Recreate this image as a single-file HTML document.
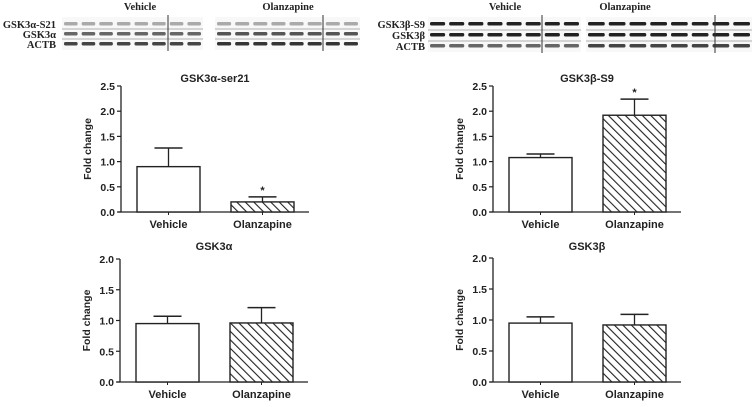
<!DOCTYPE html>
<html><head><meta charset="utf-8"><style>
body{margin:0;background:#fff;width:752px;height:402px;overflow:hidden}
svg text{font-family:"Liberation Sans",Arial,sans-serif;font-weight:bold;fill:#222}
.serif{font-family:"Liberation Serif",serif !important}
</style></head><body>
<svg id="fig" width="752" height="402" viewBox="0 0 752 402" xmlns="http://www.w3.org/2000/svg">
<defs>
<pattern id="hatch" patternUnits="userSpaceOnUse" width="6" height="6" patternTransform="rotate(-45)">
<rect width="6" height="6" fill="#fff"/><line x1="0" y1="0" x2="0" y2="6" stroke="#222" stroke-width="2.2"/>
</pattern>
</defs>
<g id="blots"></g>
<g id="charts"></g>
</svg>
<script>
const categories = ["Vehicle", "Olanzapine"];
const titles = ["GSK3\u03b1-ser21", "GSK3\u03b2-S9", "GSK3\u03b1", "GSK3\u03b2"];
const meanA1 = [0.9, 0.2];
const errA1 = [0.37, 0.1];
const meanB1 = [1.08, 1.92];
const errB1 = [0.07, 0.32];
const meanA2 = [0.95, 0.96];
const errA2 = [0.12, 0.25];
const meanB2 = [0.95, 0.92];
const errB2 = [0.10, 0.17];
const sigStars = [[false, true], [false, true], [false, false], [false, false]];
const ticksTop = [0, 0.5, 1.0, 1.5, 2.0, 2.5];
const ticksBottom = [0, 0.5, 1.0, 1.5, 2.0];

const NS = "http://www.w3.org/2000/svg";
function mk(tag, attrs, parent) {
  const e = document.createElementNS(NS, tag);
  for (const k in attrs) e.setAttribute(k, attrs[k]);
  parent.appendChild(e);
  return e;
}
const charts = document.getElementById('charts');

function chart(idx, ax, yTop, yZero, yMax, ticks, means, errs, titleY) {
  const g = mk('g', {}, charts);
  
  
  const y = v => yZero - (v / yMax) * (yZero - yTop);
  const bx = [ax + 16, ax + 110], bw = 63;
  const t = mk('text', {x: ax + 94, y: titleY, 'font-size': 11, 'text-anchor': 'middle'}, g);
  t.textContent = titles[idx];
  
  
  const yl = mk('line', {x1: ax, y1: yTop, x2: ax, y2: yZero, stroke: '#222', 'stroke-width': 1.3}, g);
  
  
  const xl = mk('line', {x1: ax - 3, y1: yZero, x2: ax + 188, y2: yZero, stroke: '#222', 'stroke-width': 1.3}, g);
  
  
  ticks.forEach(v => {
    mk('line', {x1: ax - 4, y1: y(v), x2: ax, y2: y(v), stroke: '#222', 'stroke-width': 1.2}, g);
    const tl = mk('text', {x: ax - 6, y: y(v) + 4, 'font-size': 10.5, 'text-anchor': 'end'}, g);
    tl.textContent = v.toFixed(1);
    
    
  });
  const ylab = mk('text', {x: 0, y: 0, 'font-size': 10.5, 'text-anchor': 'middle', transform: `translate(${ax - 30},${(yTop + yZero) / 2}) rotate(-90)`}, g);
  ylab.textContent = 'Fold change';
  
  
  means.forEach((m, i) => {
    const cx = bx[i] + bw / 2;
    const eTop = y(m + errs[i]);
    mk('line', {x1: cx, y1: y(m), x2: cx, y2: eTop, stroke: '#222', 'stroke-width': 1.3}, g);
    mk('line', {x1: cx - 14, y1: eTop, x2: cx + 14, y2: eTop, stroke: '#222', 'stroke-width': 1.5}, g);
    const r = mk('rect', {x: bx[i], y: y(m), width: bw, height: yZero - y(m), fill: i ? 'url(#hatch)' : '#fff', stroke: '#222', 'stroke-width': 1.4}, g);
    
    
    mk('line', {x1: cx, y1: yZero, x2: cx, y2: yZero + 3, stroke: '#222'}, g);
    const xl2 = mk('text', {x: cx, y: yZero + 16, 'font-size': 11, 'text-anchor': 'middle'}, g);
    xl2.textContent = categories[i];
    
    
    if (sigStars[idx][i]) {
      const s = mk('text', {x: cx, y: eTop - 3, 'font-size': 11, 'text-anchor': 'middle'}, g);
      s.textContent = '*';
      
      
    }
  });
}
chart(0, 121, 86, 212, 2.5, ticksTop, meanA1, errA1, 82);
chart(1, 493, 86, 212, 2.5, ticksTop, meanB1, errB1, 82);
chart(2, 120, 259, 382, 2.0, ticksBottom, meanA2, errA2, 250);
chart(3, 493, 258, 382, 2.0, ticksBottom, meanB2, errB2, 250);

// Western blots (decorative)
const blots = document.getElementById('blots');
function blot(labels, labelX, groups, rows, heads) {
  labels.forEach((l, r) => {
    const t = mk('text', {x: labelX, y: rows[r] + 4, 'font-size': 10.5, 'text-anchor': 'end', class: 'serif'}, blots);
    t.textContent = l;
    
    
  });
  heads.forEach(h => {
    const t = mk('text', {x: h[0], y: 10, 'font-size': 10.5, 'text-anchor': 'middle', class: 'serif'}, blots);
    t.textContent = h[1];
    
    
  });
  groups.forEach(gp => {
    const [x0, x1, sep, n, darks] = gp;
    mk('rect', {x: x0, y: rows[0] - 7, width: x1 - x0, height: rows[2] - rows[0] + 13, fill: '#f8f8f8'}, blots);
    rows.forEach((ry, r) => {
      if (r > 0) mk('line', {x1: x0, y1: ry - 5, x2: x1, y2: ry - 5, stroke: '#999', 'stroke-width': 0.8}, blots);
      const w = (x1 - x0) / n;
      for (let k = 0; k < n; k++) {
        mk('rect', {x: x0 + k * w + 2, y: ry - 2, width: w - 4, height: 3.5, rx: 1.5, fill: darks[r]}, blots);
      }
    });
    mk('line', {x1: sep, y1: rows[0] - 9, x2: sep, y2: rows[2] + 7, stroke: '#333', 'stroke-width': 1}, blots);
  });
}
blot(['GSK3\u03b1-S21', 'GSK3\u03b1', 'ACTB'], 56,
  [[62, 203, 168, 8, ['#aaa', '#666', '#444']], [215, 360, 323, 8, ['#aaa', '#555', '#333']]],
  [24, 34, 44], [[140, 'Vehicle'], [288, 'Olanzapine']]);
blot(['GSK3\u03b2-S9', 'GSK3\u03b2', 'ACTB'], 425,
  [[428, 581, 542, 8, ['#222', '#222', '#666']], [586, 752, 715, 8, ['#222', '#222', '#444']]],
  [24, 35, 46], [[505, 'Vehicle'], [625, 'Olanzapine']]);
</script>
</body></html>
